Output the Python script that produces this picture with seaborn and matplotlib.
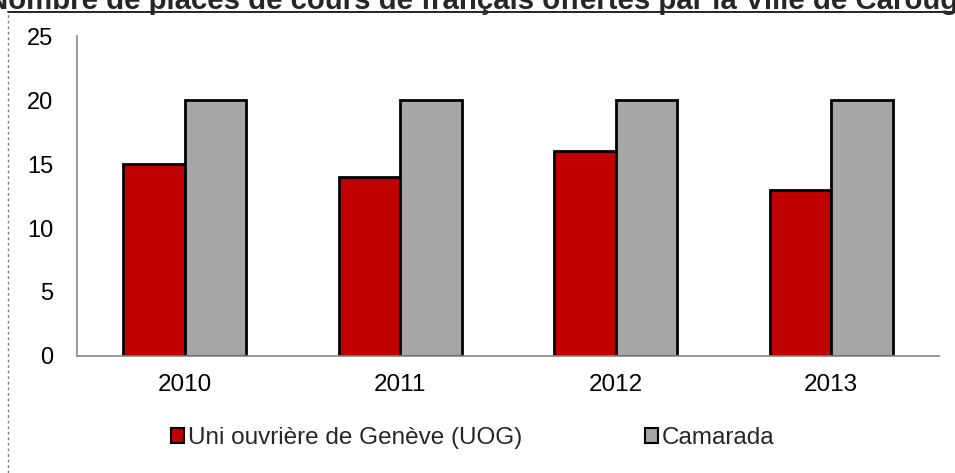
import matplotlib
matplotlib.use("Agg")
import matplotlib.pyplot as plt
import seaborn as sns
import pandas as pd
from matplotlib.patches import Patch
from matplotlib.lines import Line2D

years = ["2010", "2011", "2012", "2013"]
uog = [15, 14, 16, 13]
camarada = [20, 20, 20, 20]
series_names = ["Uni ouvrière de Genève (UOG)", "Camarada"]
colors = ["#C00000", "#A6A6A6"]
title = "Nombre de places de cours de français offertes par la Ville de Carouge"

df = pd.DataFrame({
    "year": years * 2,
    "value": uog + camarada,
    "series": [series_names[0]] * 4 + [series_names[1]] * 4,
})

sns.set_style("white")
plt.rcParams["font.family"] = ["Liberation Sans", "DejaVu Sans"]

fig = plt.figure(figsize=(9.55, 4.73), dpi=100)
ax = fig.add_axes([77 / 955, 1 - 356 / 473, (939 - 77) / 955, (356 - 36) / 473])

sns.barplot(data=df, x="year", y="value", hue="series", palette=colors,
            width=0.572, edgecolor="black", linewidth=2, ax=ax, legend=False,
            saturation=1)

ax.set_ylim(0, 25)
ax.set_xlim(-0.5, 3.5)
ax.set_yticks([0, 5, 10, 15, 20, 25])
ax.set_xlabel("")
ax.set_ylabel("")
for s in ["top", "right"]:
    ax.spines[s].set_visible(False)
for s in ["left", "bottom"]:
    ax.spines[s].set_color("#868686")
    ax.spines[s].set_linewidth(1.2)
ax.set_xticks([0, 1, 2, 3])
ax.set_xticklabels(years)
ax.tick_params(axis="y", direction="out", length=7, width=1.2, color="#868686",
               labelsize=17, pad=10, labelcolor="black")
ax.tick_params(axis="x", length=0, labelsize=17.5, pad=13, labelcolor="black")
ax.set_xticks([-0.5, 0.5, 1.5, 2.5, 3.5], minor=True)
ax.tick_params(axis="x", which="minor", direction="out", length=6, width=1.2, color="#868686")

# frame lines of the chart area
fig.add_artist(Line2D([8 / 955, 1], [1 - 12 / 473, 1 - 12 / 473], color="black", lw=1.2,
                      transform=fig.transFigure))
fig.add_artist(Line2D([8 / 955, 8 / 955], [0, 1 - 12 / 473], color="#808080", lw=1,
                      ls=(0, (2, 2)), transform=fig.transFigure))

fig.text(481 / 955, 1 - 9 / 473, title, ha="center", va="baseline", fontsize=21.2,
         fontweight="bold")

xs = [171 / 955, 645 / 955]
for name, c, x0 in zip(series_names, colors, xs):
    fig.legend([Patch(facecolor=c, edgecolor="black", linewidth=1.5)], [name],
               loc="center left", bbox_to_anchor=(x0, 1 - 438 / 473), frameon=False,
               fontsize=17.5, handlelength=0.55, handleheight=0.55, handletextpad=0.15,
               borderaxespad=0, borderpad=0)

fig.savefig("out.png", dpi=100)
